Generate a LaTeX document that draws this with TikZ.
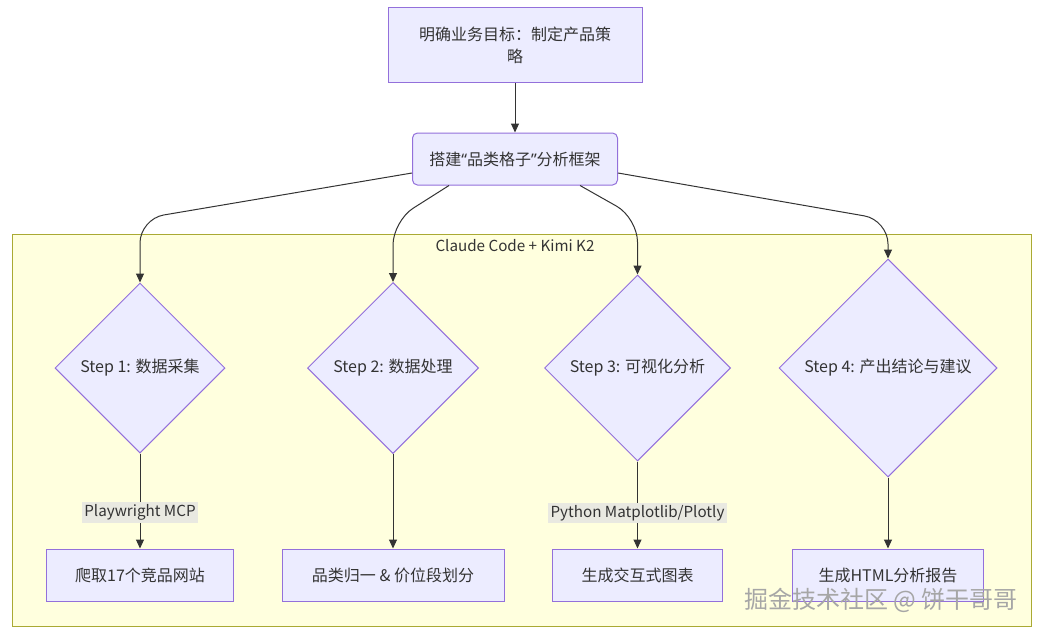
\documentclass[tikz,border=0pt]{standalone}
\usepackage{fontspec}
\setmainfont{Noto Sans CJK SC}
\newfontfamily\latinfont{Noto Sans}
\usetikzlibrary{arrows.meta}
\usetikzlibrary{shapes.geometric}
\definecolor{boxfill}{HTML}{ECECFF}
\definecolor{boxline}{HTML}{9370DB}
\definecolor{grpfill}{HTML}{FFFFDE}
\definecolor{grpline}{HTML}{AAAA33}
\definecolor{ink}{HTML}{333333}
\definecolor{lblfill}{HTML}{E9E9E1}

\begin{document}
\begin{tikzpicture}[x=0.5pt,y=0.5pt,
    every node/.style={font=\fontsize{8pt}{11pt}\selectfont, text=ink},
    box/.style={draw=boxline, fill=boxfill, line width=0.5pt, minimum height=26pt, inner sep=0pt},
    decision/.style={diamond, aspect=1, draw=boxline, fill=boxfill, line width=0.5pt, inner sep=0pt},
    lbl/.style={fill=lblfill, inner sep=1.2pt, font=\fontsize{7.6pt}{10pt}\selectfont},
    arr/.style={draw=ink, line width=0.5pt, -{Triangle[length=4.5pt,width=4pt]}}]
          \useasboundingbox[fill=white] (0,0) rectangle (1045,634);
          % group
          \draw[draw=grpline, fill=grpfill, line width=0.5pt] (12,8) rectangle (1031,400);
          \node[font=\fontsize{7.6pt}{10pt}\selectfont] (grp) at (515,388) {Claude Code + Kimi K2};
          % top
          \node[box, minimum width=127pt, minimum height=37.5pt, align=center] (goal) at (515,589) {明确业务目标：制定产品策\\略};
          \node[box, rounded corners=2.5pt, minimum width=102.5pt] (frame) at (515,475) {搭建{\latinfont “}品类格子{\latinfont ”}分析框架};
          % steps
          \node[decision, minimum width=85pt, minimum height=85pt] (s1) at (140,266) {Step 1: 数据采集};
          \node[decision, minimum width=85.5pt, minimum height=85.5pt] (s2) at (393,266) {Step 2: 数据处理};
          \node[decision, minimum width=93pt, minimum height=93pt] (s3) at (637.5,266) {Step 3: 可视化分析};
          \node[decision, minimum width=109pt, minimum height=109pt] (s4) at (888,266) {Step 4: 产出结论与建议};
          \node[box, minimum width=93.5pt] (b1) at (140,59) {爬取17个竞品网站};
          \node[box, minimum width=111pt] (b2) at (393,59) {品类归一 \& 价位段划分};
          \node[box, minimum width=85pt] (b3) at (637.5,59) {生成交互式图表};
          \node[box, minimum width=95.5pt] (b4) at (888,59) {生成HTML分析报告};
          % edges
          \draw[arr] (goal) -- (frame);
          \draw[arr, rounded corners=12pt] ([yshift=-7pt]frame.west) -- (s1.north |- 0,415) -- (s1.north);
          \draw[arr, rounded corners=12pt] ([xshift=18.5pt]frame.south west) -- (s2.north |- 0,413) -- (s2.north);
          \draw[arr, rounded corners=12pt] ([xshift=-19pt]frame.south east) -- (s3.north |- 0,416) -- (s3.north);
          \draw[arr, rounded corners=12pt] ([yshift=-7pt]frame.east) -- (s4.north |- 0,414) -- (s4.north);
          \draw[arr] (s1) -- node[lbl, pos=0.62] {Playwright MCP} (b1);
          \draw[arr] (s2) -- (b2);
          \draw[arr] (s3) -- node[lbl, pos=0.59] {Python Matplotlib/Plotly} (b3);
          \draw[arr] (s4) -- (b4);
          % watermark
          \node[font=\fontsize{12pt}{12pt}\selectfont, text=gray!70] (mark) at (881,34) {掘金技术社区 @ 饼干哥哥};
        \end{tikzpicture}
\end{document}
